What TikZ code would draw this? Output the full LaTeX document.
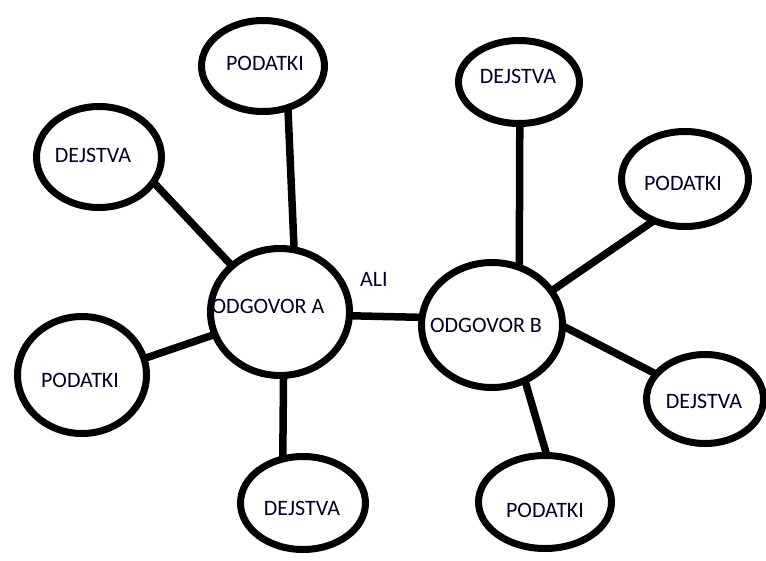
\documentclass[tikz,border=0pt]{standalone}
\usepackage{fontspec}
\setmainfont{Carlito}
\usetikzlibrary{shapes.geometric,backgrounds}
\tikzset{
  bub/.style={ellipse, draw=black, line width=7pt, fill=white, inner sep=0pt},
  txt/.style={font=\fontsize{22}{25}\selectfont, text=black!85!blue, inner sep=0pt},
  conn/.style={line width=7.5pt, shorten <=-5pt, shorten >=-5pt}
}
\begin{document}
\begin{tikzpicture}[x=1pt,y=-1pt]
\useasboundingbox (0,0) rectangle (766,560);
% central nodes
\node[bub, minimum width=139, minimum height=127] (A) at (280,312) {};
\node[bub, minimum width=141, minimum height=125] (B) at (492,325) {};
% leaves of A
\node[bub, minimum width=123, minimum height=91]  (P1) at (263,66) {};
\node[bub, minimum width=125, minimum height=101] (D1) at (99,157) {};
\node[bub, minimum width=129, minimum height=117] (P2) at (82,375) {};
\node[bub, minimum width=125, minimum height=93]  (D2) at (303,503) {};
% leaves of B
\node[bub, minimum width=121, minimum height=83]  (D3) at (519,82) {};
\node[bub, minimum width=127, minimum height=95]  (P3) at (685,179) {};
\node[bub, minimum width=117, minimum height=89]  (D4) at (705,399) {};
\node[bub, minimum width=133, minimum height=93]  (P4) at (545,502) {};
% texts
\node[txt] (tA)  at (268,306) {ODGOVOR A};
\node[txt] (tB)  at (486,325) {ODGOVOR B};
\node[txt] (tALI) at (374,279) {ALI};
\node[txt] (tP1) at (265,63) {PODATKI};
\node[txt] (tD1) at (93,155) {DEJSTVA};
\node[txt] (tP2) at (80,380) {PODATKI};
\node[txt] (tD2) at (302,508) {DEJSTVA};
\node[txt] (tD3) at (518,76) {DEJSTVA};
\node[txt] (tP3) at (683,183) {PODATKI};
\node[txt] (tD4) at (704,401) {DEJSTVA};
\node[txt] (tP4) at (545,510) {PODATKI};
% connectors
\begin{scope}[on background layer]
\fill[white] (0,0) rectangle (766,560);
\draw[conn] (P1.-61) -- (A.78);
\draw[conn] (D1.-26) -- (A.136);
\draw[conn] (P2.15) -- (A.199);
\draw[conn] (A.-87) -- (D2.113);
\draw[conn] (A.-3) -- (B.174);
\draw[conn] (D3.-89) -- (B.66);
\draw[conn] (P3.-128) -- (B.30);
\draw[conn] (B.-2) -- (D4.153);
\draw[conn] (B.-60) -- (P4.89);
\end{scope}
\end{tikzpicture}
\end{document}
